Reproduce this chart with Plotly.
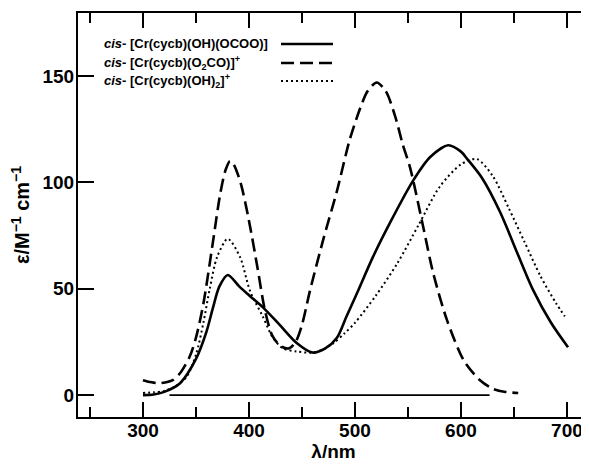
import plotly.graph_objects as go

# ---- data ----
solid_name = "<i>cis</i>- [Cr(cycb)(OH)(OCOO)]"
solid_x = [300, 310, 320, 335, 350, 360, 366, 372, 380, 391, 400, 413, 429, 445, 460, 472,
           483, 492, 502, 517, 533, 555, 571, 588, 600, 606, 620, 637, 653, 668, 685, 701]
solid_y = [0, 0.3, 1.5, 5.6, 17, 30, 41, 51, 56.5, 51, 47, 41.4, 33, 24.5, 20, 22,
           27, 37, 48, 65, 81, 101, 112, 117.5, 114.5, 111, 102, 86, 67, 49.5, 34, 22.5]

dash_name = "<i>cis</i>- [Cr(cycb)(O<sub>2</sub>CO)]<sup>+</sup>"
dash_x = [300, 308, 316, 328, 336, 344, 350, 357, 366, 373, 378, 382, 385, 392, 400, 408,
          415, 422, 430, 438, 444, 450, 457.5, 470, 483, 495, 505, 512, 520.5, 529, 538,
          545, 552, 564, 573.5, 587, 603, 618, 630, 642, 654]
dash_y = [7, 6, 5.6, 7, 11, 18, 27, 43, 72, 95, 106, 110, 109, 100, 82, 60,
          40, 28, 23, 22, 25, 33, 49, 73, 96, 120, 135, 143, 147, 143, 131,
          118, 107, 80, 58, 35, 16, 7, 3, 1.5, 1]

dot_name = "<i>cis</i>- [Cr(cycb)(OH)<sub>2</sub>]<sup>+</sup>"
dot_x = [300, 310, 320, 330, 341, 350, 357, 363, 370, 380, 391.5, 401, 413, 422.6, 432,
         445, 460, 470, 480, 490, 500, 520, 540, 560, 580, 600, 615, 630, 645, 660,
         675, 690, 698]
dot_y = [1, 1.3, 2, 4, 8.5, 19, 34, 50, 65, 73.5, 65, 49, 37, 27, 22,
         20.5, 20, 21.5, 24.5, 29, 34, 47, 62, 80, 98, 108.5, 111, 103, 88, 72,
         56, 43, 37]

baseline_x = [325, 627]
baseline_y = [0, 0]

x_ticks = [300, 400, 500, 600, 700]
y_ticks = [0, 50, 100, 150]
x_range = [238.7, 720.8]
y_range = [-10.3, 179.7]

FONT = "Liberation Sans"
INK = "black"

# the page body has an 8px margin, so the figure is shifted by 8px
OFF = 8
W, H = 589 - OFF, 468 - OFF
L, R, T, B = 78 - OFF, 0, 13 - OFF, 51
pw = W - L - R
ph = H - T - B

fig = go.Figure()
fig.add_trace(go.Scatter(x=baseline_x, y=baseline_y, mode="lines",
                         line=dict(color=INK, width=1.8), showlegend=False, hoverinfo="skip"))
fig.add_trace(go.Scatter(x=solid_x, y=solid_y, mode="lines", name=solid_name,
                         line=dict(color=INK, width=2.6, shape="spline", smoothing=0.8),
                         showlegend=False))
fig.add_trace(go.Scatter(x=dash_x, y=dash_y, mode="lines", name=dash_name,
                         line=dict(color=INK, width=2.6, dash="13px,6px", shape="spline", smoothing=0.8),
                         showlegend=False))
fig.add_trace(go.Scatter(x=dot_x, y=dot_y, mode="lines", name=dot_name,
                         line=dict(color=INK, width=2, dash="2px,3px", shape="spline", smoothing=0.8),
                         showlegend=False))

# legend drawn as text + key lines (text on the left, key on the right)
legend_rows = [(solid_name, "solid", 2.6), (dash_name, "13px,6px", 2.6), (dot_name, "2px,3px", 2)]
legend_y_px = [44, 63, 81]   # page pixels
for (txt, dsh, w), ypx in zip(legend_rows, legend_y_px):
    yp = 1 - (ypx - OFF - T) / ph
    fig.add_annotation(xref="paper", yref="paper", x=(102 - OFF - L) / pw, y=yp,
                       text=txt, showarrow=False, xanchor="left", yanchor="middle",
                       font=dict(family=FONT, size=13, color=INK, weight="bold"))
    fig.add_shape(type="line", xref="paper", yref="paper",
                  x0=(281 - OFF - L) / pw, x1=(333 - OFF - L) / pw, y0=yp, y1=yp,
                  line=dict(color=INK, width=w, dash=dsh))

fig.update_layout(
    width=W, height=H,
    margin=dict(l=L, r=R, t=T, b=B, autoexpand=False),
    paper_bgcolor="white", plot_bgcolor="white",
    font=dict(family=FONT, color=INK, size=19, weight="bold"),
    xaxis=dict(range=x_range, tickvals=x_ticks, ticks="inside", ticklen=15, tickwidth=2,
               tickcolor=INK, showline=True, linewidth=2, linecolor=INK, mirror="ticks",
               showgrid=False, zeroline=False, ticklabelstandoff=-5,
               minor=dict(dtick=50, tick0=300, ticks="inside", ticklen=10, tickwidth=2, tickcolor=INK, showgrid=False),
               title=dict(text="λ/nm", standoff=4, font=dict(size=19, weight="bold")),
               tickfont=dict(size=19, weight="bold")),
    yaxis=dict(range=y_range, tickvals=y_ticks, ticks="inside", ticklen=16, tickwidth=2,
               tickcolor=INK, showline=True, linewidth=2, linecolor=INK,
               showgrid=False, zeroline=False, ticklabelstandoff=-2,
               title=dict(text="ε/M<sup>−1</sup> cm<sup>−1</sup>", standoff=10, font=dict(size=20, weight="bold")),
               tickfont=dict(size=19, weight="bold")),
    yaxis2=dict(range=y_range, tickvals=y_ticks, overlaying="y", side="right", ticks="inside",
                ticklen=6, tickwidth=2, tickcolor=INK, showline=False, showgrid=False,
                zeroline=False, showticklabels=False),
    showlegend=False,
)

fig.write_html("out.html")
